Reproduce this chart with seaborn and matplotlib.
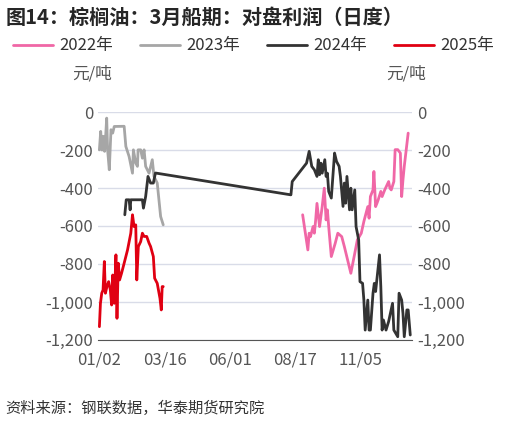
import numpy as np
import pandas as pd
import matplotlib.pyplot as plt
import seaborn as sns

sns.set_style('white')
plt.rcParams['font.family'] = ['Noto Sans CJK SC', 'DejaVu Sans']

tick_pos = [0, 50, 100, 150, 200]
tick_lab = ['01/02', '03/16', '06/01', '08/17', '11/05']

x22 = [156, 160, 161, 162, 164, 165, 166, 167, 169, 170, 171, 172.6, 174, 175, 176, 178, 181, 183, 186, 188, 193, 196, 198, 201, 203, 206, 207, 208, 210, 210.7, 212, 213, 214, 216, 217, 219, 222, 223, 224, 226, 227, 229, 231, 232, 233, 234, 237]
y22 = [-541, -726, -638, -656, -603, -638, -568, -481, -603, -550, -498, -401, -568, -515, -603, -761, -691, -638, -656, -708, -849, -744, -673, -638, -576, -498, -559, -445, -410, -313, -498, -481, -462, -418, -445, -410, -366, -401, -410, -366, -198, -198, -216, -445, -357, -286, -111]

x23 = [0, 1, 2, 3, 4, 4.8, 5.6, 6.3, 7.6, 8.9, 10.2, 11.4, 19, 20.3, 22.8, 25.4, 26.1, 27.9, 29.2, 29.7, 31.7, 33, 34.3, 35.5, 38.1, 40.6, 41.9, 44.4, 47, 49]
y23 = [-199, -102, -200, -128, -207, -128, -32, -199, -304, -93, -111, -76, -75, -181, -234, -322, -199, -269, -286, -199, -199, -243, -199, -286, -322, -251, -339, -374, -550, -594]

x24 = [19.5, 20.6, 22.8, 23.6, 24.1, 33, 33.8, 35.5, 37.3, 39.3, 41.4, 43, 147, 148, 159, 161, 163, 165, 167, 168, 169, 170, 171, 173, 174, 175, 176, 178, 180.5, 182, 184, 185, 187, 188, 189, 190, 192, 193, 194, 196, 197, 198, 199, 200, 202, 203, 204, 206, 207, 208, 210, 211, 212, 215, 216, 217, 218, 220, 222, 225, 226, 229, 230, 232, 233, 234, 236, 237, 238.6]
y24 = [-541, -462, -462, -515, -462, -462, -506, -445, -339, -374, -374, -321, -436, -366, -269, -207, -286, -304, -339, -251, -330, -269, -322, -251, -339, -322, -418, -453, -216, -260, -286, -339, -497, -374, -480, -339, -515, -401, -515, -410, -603, -638, -673, -893, -902, -990, -1148, -990, -1148, -1148, -954, -902, -945, -752, -919, -1148, -1095, -1148, -1103, -1007, -1148, -1183, -954, -990, -1060, -1183, -1042, -1042, -1174]

x25 = [0, 0.8, 1.8, 2.8, 3.8, 4.6, 5.8, 7.1, 8.4, 9.4, 10.2, 11.4, 12.7, 13.5, 14.5, 15.5, 17, 19, 21.6, 24.1, 25.4, 26.6, 27.9, 28.7, 29.9, 31.7, 33, 34.3, 36.3, 38.1, 39.3, 41.4, 42.4, 44.4, 46.5, 47.5, 48.2, 49]
y25 = [-1130, -1007, -954, -937, -787, -954, -919, -893, -937, -1016, -858, -1007, -752, -1086, -796, -884, -849, -796, -726, -638, -541, -603, -594, -884, -708, -682, -638, -655, -655, -690, -708, -761, -875, -902, -981, -1042, -919, -919]

fig = plt.figure(figsize=(5.19, 4.26), dpi=100)
ax = fig.add_axes([0.189, 0.202, 0.605, 0.535])

series = [('2022年', x22, y22, '#f067a6'), ('2023年', x23, y23, '#a6a6a6'),
          ('2024年', x24, y24, '#333333'), ('2025年', x25, y25, '#e00012')]
for name, xs, ys, c in series:
    sns.lineplot(x=xs, y=ys, ax=ax, color=c, lw=2, label=name, sort=False)

ax.set_xlim(-1, 240)
ax.set_ylim(-1200, 0)
ax.set_xticks(tick_pos)
ax.set_xticklabels(tick_lab)
yt = np.arange(-1200, 1, 200)
ax.set_yticks(yt)
ax.set_yticklabels([f'{v:,}' for v in yt])
ax.grid(axis='y', color='#d9dce8', lw=1)
for s in ['top', 'right', 'left']:
    ax.spines[s].set_visible(False)
ax.spines['bottom'].set_color('#555555')
ax.tick_params(axis='x', length=5, color='#555555', labelsize=12, labelcolor='#555555')
ax.tick_params(axis='y', length=0, labelsize=12, labelcolor='#555555')

ax2 = ax.twinx()
ax2.set_ylim(-1200, 0)
ax2.set_yticks(yt)
ax2.set_yticklabels([f'{v:,}' for v in yt])
for s in ['top', 'right', 'left', 'bottom']:
    ax2.spines[s].set_visible(False)
ax2.tick_params(axis='y', length=0, labelsize=12, labelcolor='#555555')

ax.legend(loc='center left', bbox_to_anchor=(-0.32, 1.29), ncol=4, frameon=False,
          fontsize=12, handlelength=2.4, columnspacing=1.6, handletextpad=0.4,
          labelcolor='#333333')
fig.text(0.14, 0.815, '元/吨', fontsize=12, color='#555555')
fig.text(0.745, 0.815, '元/吨', fontsize=12, color='#555555')
fig.text(0.01, 0.945, '图14：棕榈油：3月船期：对盘利润（日度）', fontsize=14.5, weight='bold')
fig.text(0.01, 0.03, '资料来源：钢联数据，华泰期货研究院', fontsize=11, style='italic', color='#333333')

fig.savefig('out.png', dpi=100)
